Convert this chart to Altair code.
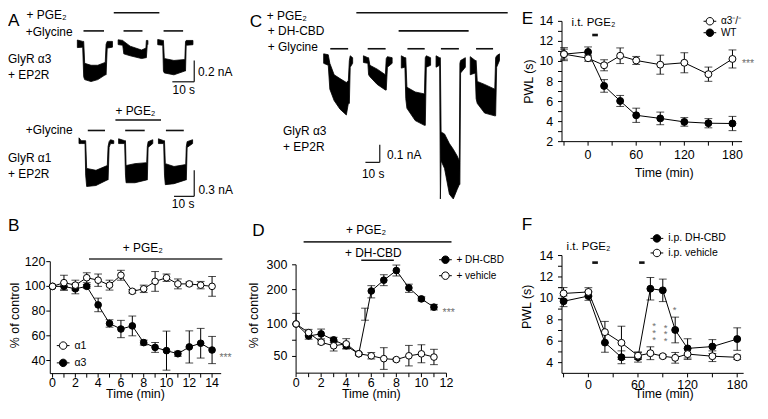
import altair as alt
import pandas as pd

W, H = 750, 400
SX, SY = W / 768, H / 419
FONT = "Liberation Sans"


def X(rx):
    return rx * SX


def Y(ry):
    return ry * SY


# ---------------- data ----------------
# Panel A top (GlyR a3): current bands per sweep (time s, upper nA, lower nA)
a3_sweep = [1] * 10 + [2] * 9 + [3] * 9
a3_t = [0.45, 2.9, 3.35, 3.8, 6.7, 9.8, 13.2, 13.6, 14.1, 16.5,
        19.1, 21.2, 21.7, 24.6, 29.8, 31.8, 32.0, 32.4, 32.7,
        37.2, 39.5, 39.8, 40.2, 44.6, 49.6, 49.9, 50.2, 53.3]
a3_hi = [0.031, 0.018, 0.018, -0.188, -0.206, -0.206, -0.179, -0.009, 0.018, 0.018,
         0.033, 0.027, 0.018, -0.027, -0.063, -0.045, 0.027, 0.027, 0.027,
         0.036, 0.027, 0.027, -0.143, -0.161, -0.152, 0.018, 0.027, 0.027]
a3_lo = [-0.040, -0.036, -0.314, -0.341, -0.359, -0.341, -0.296, -0.296, -0.045, -0.036,
         -0.012, -0.018, -0.099, -0.117, -0.143, -0.135, -0.135, -0.018, -0.009,
         -0.013, -0.018, -0.260, -0.278, -0.296, -0.260, -0.260, -0.018, -0.013]

# Panel A bottom (GlyR a1)
a1_sweep = [1] * 11 + [2] * 9 + [3] * 9
a1_t = [1.3, 2.4, 4.3, 4.6, 5.1, 9.7, 15.3, 15.7, 16.2, 16.9, 18.5,
        20.9, 23.9, 24.3, 24.6, 29.0, 34.8, 35.1, 35.5, 37.8,
        40.6, 43.2, 43.6, 44.0, 48.3, 54.1, 54.4, 54.8, 57.5]
a1_hi = [0.044, 0.011, 0.011, 0.011, -0.308, -0.330, -0.275, -0.055, 0.0, 0.022, 0.011,
         0.033, 0.011, 0.011, -0.275, -0.253, -0.242, -0.055, 0.0, 0.022,
         0.033, 0.011, 0.011, -0.253, -0.286, -0.264, -0.055, 0.0, 0.022]
a1_lo = [-0.022, -0.022, -0.022, -0.385, -0.516, -0.505, -0.440, -0.440, -0.066, -0.022, -0.022,
         -0.022, -0.022, -0.385, -0.473, -0.473, -0.440, -0.440, -0.066, -0.022,
         -0.022, -0.022, -0.385, -0.495, -0.484, -0.440, -0.440, -0.066, -0.022]

# Panel C (GlyR a3, DH-CBD)
c_sweep = [1] * 10 + [2] * 9 + [3] * 9 + [4] * 12 + [5] * 9
c_t = [2.2, 5.4, 6.5, 9.5, 13.6, 18.0, 19.4, 20.1, 20.7, 22.4,
       29.9, 33.0, 33.5, 34.4, 39.5, 45.2, 45.8, 46.6, 49.9,
       56.3, 58.8, 59.4, 60.2, 66.0, 72.4, 73.0, 73.7, 76.7,
       80.5, 83.0, 83.5, 84.0, 86.4, 89.8, 92.5, 95.2, 96.7, 97.1, 97.6, 100.9,
       104.3, 107.8, 108.4, 109.2, 114.3, 121.4, 122.0, 122.7, 124.7]
c_hi = [0.027, 0.022, -0.027, -0.092, -0.114, -0.136, -0.125, -0.011, 0.016, 0.005,
        0.016, 0.005, 0.005, -0.038, -0.060, -0.092, 0.0, 0.011, 0.005,
        0.016, 0.005, 0.005, -0.163, -0.190, -0.201, 0.005, 0.016, 0.005,
        0.016, 0.005, 0.005, -0.418, -0.429, -0.484, -0.516, -0.554, -0.582, -0.027, -0.011, 0.005,
        0.011, -0.011, -0.011, -0.130, -0.147, -0.174, 0.005, 0.016, 0.027]
c_lo = [-0.027, -0.038, -0.174, -0.239, -0.288, -0.321, -0.255, -0.255, -0.049, -0.027,
        -0.022, -0.027, -0.092, -0.103, -0.147, -0.179, -0.179, -0.049, -0.027,
        -0.054, -0.049, -0.228, -0.283, -0.353, -0.380, -0.380, -0.049, -0.038,
        -0.049, -0.038, -0.799, -0.582, -0.625, -0.772, -0.799, -0.745, -0.717, -0.717, -0.082, -0.049,
        -0.092, -0.082, -0.228, -0.255, -0.310, -0.326, -0.326, -0.049, -0.011]

# Panel B (% of control)
b_x = list(range(15))
b_a1 = [100, 103, 101, 107, 105, 101, 109, 96, 98, 104, 107, 102, 102, 101, 100]
b_a1_err = [0, 6, 4, 4, 5, 4, 4, 1.5, 3, 8, 3, 4, 1.5, 3, 8]
b_a3 = [100, 100, 98, 100, 85, 70, 65.5, 68, 54.5, 50.6, 48, 45.5, 51, 54, 48.5]
b_a3_err = [0, 3, 4, 1.5, 5.5, 3, 7, 8, 2, 4, 15.8, 2, 13, 12, 11]
b_xticks = list(range(15))
b_yticks = [40, 60, 80, 100, 120]

# Panel D (% of control)
d_x = list(range(12))
d_cbd = [100, 81.6, 84.7, 75.5, 66.4, 54.1, 196, 238, 277, 207, 173, 149]
d_cbd_err = [0, 5, 7.5, 4, 4, 0, 20, 22, 22, 15, 6, 8]
d_veh = [100, 86.7, 71.9, 66.4, 69.4, 54.1, 51, 46.5, 45, 51, 54, 49]
d_veh_err = [0, 5, 3, 8, 8, 2, 5, 17, 2, 16, 14, 12]
d_extra_x = [0, 5.5]
d_extra_lo = [100, 111]
d_extra_hi = [131, 146]
d_xticks = list(range(13))
d_yticks = [50, 75, 100, 200, 300]

# Panel E (PWL, s)
e_x = [-30, 0, 20, 40, 60, 90, 120, 150, 180]
e_ko = [10.73, 10.32, 9.62, 10.57, 10.1, 9.68, 9.87, 8.73, 10.25]
e_ko_err = [0.65, 0.3, 0.55, 0.78, 0.4, 0.95, 1.0, 0.71, 0.9]
e_wt = [10.73, 10.95, 7.56, 6.06, 4.63, 4.32, 3.97, 3.84, 3.81]
e_wt_err = [0.5, 0.5, 0.63, 0.55, 0.71, 0.63, 0.43, 0.46, 0.71]
e_xticks = [-30, 0, 30, 60, 90, 120, 150, 180]
e_yticks = list(range(2, 15))

# Panel F (PWL, s)
f_x = [-30, 0, 20, 40, 60, 75, 90, 105, 120, 150, 180]
f_cbd = [9.73, 10.22, 5.87, 4.5, 4.5, 10.9, 10.75, 7.05, 5.33, 5.5, 6.2]
f_cbd_err = [0.5, 0.4, 0.9, 0.6, 0.45, 1.05, 1.05, 1.2, 0.9, 0.65, 1.05]
f_veh = [10.46, 10.6, 6.85, 5.85, 4.65, 4.88, 4.6, 4.45, 4.8, 4.6, 4.5]
f_veh_err = [0.55, 0.4, 1.0, 1.55, 0.35, 0.6, 0.15, 0.5, 0.5, 0.5, 0.2]
f_xticks = [-30, 0, 30, 60, 90, 120, 150, 180]
f_yticks = list(range(4, 15))

# application bars (in data units of time)
b_pge_bar = [3.2, 14.9]
d_pge_bar = [0.6, 12.4]
d_cbd_bar = [5.2, 7.8]
e_pge_bar = [5.2, 12.2]
f_pge_bars = [[4.7, 11.5], [61.4, 68.0]]

ONE = alt.Data(values=[{}])
GREY = "#707070"


# ---------------- helpers ----------------
def text(s, rx, ry, size=12.5, align="left", angle=0, color="black", dy=0, line_h=None):
    kw = {}
    if line_h is not None:
        kw["lineHeight"] = line_h * SY
    return alt.Chart(ONE).mark_text(
        text=s, align=align, baseline="middle", fontSize=size * SY, font=FONT,
        angle=angle, color=color, dy=dy, **kw
    ).encode(x=alt.value(X(rx)), y=alt.value(Y(ry)))


def hrule(rx1, rx2, ry, w=1.6, color="#111111"):
    return alt.Chart(ONE).mark_rule(strokeWidth=w, color=color).encode(
        x=alt.value(X(rx1)), x2=alt.value(X(rx2)), y=alt.value(Y(ry)))


def vrule(rx, ry1, ry2, w=1.2, color="#111111"):
    return alt.Chart(ONE).mark_rule(strokeWidth=w, color=color).encode(
        x=alt.value(X(rx)), y=alt.value(Y(ry1)), y2=alt.value(Y(ry2)))


def drule(xs, v0, v1, ry, w, color="#111111"):
    return alt.Chart(ONE).mark_rule(strokeWidth=w, color=color).encode(
        x=alt.X(datum=v0, scale=xs, axis=None), x2=alt.X2(datum=v1), y=alt.value(Y(ry)))


def trace_panel(t, hi, lo, sw, xdom, xr, ydom, yr):
    df = pd.DataFrame({"t": t, "hi": hi, "lo": lo, "sw": sw})
    xs = alt.Scale(domain=xdom, range=[X(xr[0]), X(xr[1])], nice=False, zero=False)
    ys = alt.Scale(domain=ydom, range=[Y(yr[0]), Y(yr[1])], nice=False, zero=False)
    return alt.Chart(df).mark_area(fill="black", stroke="black", strokeWidth=0.8, interpolate="linear").encode(
        x=alt.X("t:Q", scale=xs, axis=None),
        y=alt.Y("hi:Q", scale=ys, axis=None),
        y2="lo:Q",
        detail="sw:N",
    )


SYM = "M-1.7,0L-1,0M1,0L1.7,0M-1,0A1,1,0,1,0,1,0A1,1,0,1,0,-1,0Z"


def legend(rx, ry, spacing, size=10.5):
    return alt.Legend(
        orient="none", legendX=X(rx) - 3.8, legendY=Y(ry) - 5.6, title=None,
        symbolType=SYM, symbolSize=56, symbolStrokeColor="black", symbolStrokeWidth=1,
        labelFont=FONT, labelFontSize=size * SY, labelOffset=6, padding=0,
        rowPadding=spacing - 10.5 * SY, labelColor="black",
    )


def axes_layers(xs, ys, xdom, ydom, xticks, xlab_every, yticks, ylab_hide, bottom, left,
                xlab_dy=10.5, ylab_gap=9.0, fs=13):
    yb, xl = Y(bottom), X(left)
    xt = pd.DataFrame({"v": xticks})
    xt["lab"] = [str(v) if (v % xlab_every == 0) else "" for v in xticks]
    yt = pd.DataFrame({"v": yticks})
    yt["lab"] = ["" if v in ylab_hide else str(v) for v in yticks]
    return [
        alt.Chart(ONE).mark_rule(color="black", strokeWidth=1).encode(
            x=alt.X(datum=xdom[0], scale=xs, axis=None), x2=alt.X2(datum=xdom[1]), y=alt.value(yb)),
        alt.Chart(ONE).mark_rule(color="black", strokeWidth=1).encode(
            y=alt.Y(datum=ydom[0], scale=ys, axis=None), y2=alt.Y2(datum=ydom[1]), x=alt.value(xl)),
        alt.Chart(xt).mark_rule(color="black", strokeWidth=1).encode(
            x=alt.X("v:Q", scale=xs, axis=None), y=alt.value(yb), y2=alt.value(yb + 4)),
        alt.Chart(xt).mark_text(font=FONT, fontSize=fs * SY, baseline="middle", align="center").encode(
            x=alt.X("v:Q", scale=xs, axis=None), y=alt.value(yb + xlab_dy * SY), text="lab:N"),
        alt.Chart(yt).mark_rule(color="black", strokeWidth=1).encode(
            y=alt.Y("v:Q", scale=ys, axis=None), x=alt.value(xl - 4), x2=alt.value(xl)),
        alt.Chart(yt).mark_text(font=FONT, fontSize=fs * SY, baseline="middle", align="right").encode(
            y=alt.Y("v:Q", scale=ys, axis=None), x=alt.value(xl - ylab_gap * SX), text="lab:N"),
    ]


def xy_panel(series, legend_order, xs, ys, leg, axes, extras=(), psize=46, extra_err=None, cap=8):
    rows, err_rows, colors = [], [], {}
    for name, xv, yv, ev, col in series:
        colors[name] = col
        for a, b, e in zip(xv, yv, ev):
            rows.append({"x": a, "y": b, "s": name})
            if e > 0:
                err_rows.append({"x": a, "lo": b - e, "hi": b + e})
    if extra_err:
        for a, l, h in zip(*extra_err):
            err_rows.append({"x": a, "lo": l, "hi": h})
    df = pd.DataFrame(rows)
    edf = pd.DataFrame(err_rows)
    lines = alt.Chart(df).mark_line(color="black", strokeWidth=1).encode(
        x=alt.X("x:Q", scale=xs, axis=None),
        y=alt.Y("y:Q", scale=ys, axis=None),
        detail="s:N",
    )
    bars = alt.Chart(edf).mark_rule(color="black", strokeWidth=1).encode(
        x=alt.X("x:Q", scale=xs, axis=None),
        y=alt.Y("lo:Q", scale=ys, axis=None),
        y2="hi:Q",
    )
    caps = alt.Chart(edf).transform_fold(["lo", "hi"], as_=["k", "v"]).mark_tick(
        orient="horizontal", size=cap * SX, thickness=1, color="black"
    ).encode(
        x=alt.X("x:Q", scale=xs, axis=None),
        y=alt.Y("v:Q", scale=ys, axis=None),
    )
    pts = alt.Chart(df).mark_point(
        shape="circle", filled=True, size=psize, stroke="black", strokeWidth=1, opacity=1
    ).encode(
        x=alt.X("x:Q", scale=xs, axis=None),
        y=alt.Y("y:Q", scale=ys, axis=None),
        fill=alt.Fill("s:N", scale=alt.Scale(domain=legend_order, range=[colors[n] for n in legend_order]),
                      legend=leg),
    )
    return alt.layer(*axes, lines, bars, caps, pts, *extras)


layers = []

# ---------------- Panel A ----------------
layers.append(trace_panel(a3_t, a3_hi, a3_lo, a3_sweep, [0, 60], [70, 70 + 60 * 2.24], [-1, 0.5],
                          [37 + 111.5, 37 - 0.5 * 111.5]))
layers.append(trace_panel(a1_t, a1_hi, a1_lo, a1_sweep, [0, 60], [70, 70 + 60 * 2.07], [-0.6, 0.3],
                          [140 + 0.6 * 91, 140 - 0.3 * 91]))
layers += [
    text("A", 0, 14, size=18),
    text("+ PGE₂", 19, 7),
    text("+Glycine", 18.3, 25),
    text("GlyR α3", 0, 53),
    text("+ EP2R", 0, 70),
    hrule(108.3, 155, 5), hrule(77.3, 98.3, 24), hrule(118.3, 137.7, 24), hrule(159.3, 179.3, 24),
    vrule(190.7, 55, 77.3), hrule(168.3, 190.7, 77.3, w=1.2),
    text("0.2 nA", 194.5, 67.5),
    text("10 s", 180, 85.5, align="center"),
    text("+ PGE₂", 130.5, 107.5, align="center"),
    hrule(110, 156.7, 117.3),
    text("+Glycine", 18.3, 128),
    hrule(81.7, 99.3, 128.3), hrule(120, 140, 128.3), hrule(161.7, 180, 128.3),
    text("GlyR α1", 0, 157),
    text("+ EP2R", 0, 174),
    vrule(190.7, 170, 197.3), hrule(170, 190.7, 197.3, w=1.2),
    text("0.3 nA", 195, 190.7),
    text("10 s", 179.3, 205.5, align="center"),
]

# ---------------- Panel C ----------------
layers.append(trace_panel(c_t, c_hi, c_lo, c_sweep, [0, 130], [320, 320 + 130 * 1.47], [-1, 0.2],
                          [53 + 184, 53 - 0.2 * 184]))
layers += [
    text("C", 247.5, 15, size=18),
    text("+ PGE₂", 265, 8),
    text("+ DH-CBD", 266, 24.5),
    text("+ Glycine", 266, 40.5),
    hrule(356.7, 511.7, 5), hrule(400, 471.7, 24),
    hrule(330, 348.3, 42.7), hrule(368.3, 386.7, 42.7), hrule(409, 426.7, 42.7),
    hrule(443.3, 461.7, 42.7), hrule(479.3, 496.7, 42.7),
    text("GlyR α3", 281.7, 129),
    text("+ EP2R", 281.7, 146),
    vrule(380.7, 143.3, 161.7), hrule(366, 380.7, 161.7, w=1.2),
    text("0.1 nA", 388, 154),
    text("10 s", 374, 173.5, align="center"),
]

# ---------------- Panel B ----------------
bdx, bdy = [-0.2, 14.8], [29.4, 120]
bxs = alt.Scale(domain=bdx, range=[X(43.3), X(218.3)], nice=False, zero=False)
bys = alt.Scale(domain=bdy, range=[Y(383), Y(265.7)], nice=False, zero=False)
layers.append(xy_panel(
    [("α3", b_x, b_a3, b_a3_err, "black"), ("α1", b_x, b_a1, b_a1_err, "white")], ["α1", "α3"],
    bxs, bys, legend(55, 354, 15.3, 11),
    axes_layers(bxs, bys, bdx, bdy, b_xticks, 2, b_yticks, [], 383, 43.3, xlab_dy=10, ylab_gap=5),
    extras=[drule(bxs, b_pge_bar[0], b_pge_bar[1], 263, 1.6, "#333333")],
    psize=44,
))
layers += [
    text("B", 0, 228, size=18),
    text("+ PGE₂", 138, 251, align="center"),
    text("% of control", 7, 322, size=13, align="center", angle=270),
    text("Time (min)", 130.5, 404, size=13, align="center"),
    text("***", 216.5, 363, size=11, color=GREY, dy=3),
]

# ---------------- Panel D ----------------
ddx, ddy = [0, 12], [23.5, 300]
dxs = alt.Scale(domain=ddx, range=[X(295), X(449)], nice=False, zero=False)
dys = alt.Scale(domain=[23.5, 50, 100, 200, 300], range=[Y(382.5), Y(365), Y(331), Y(295), Y(269)],
                nice=False, zero=False)
layers.append(xy_panel(
    [("+ DH-CBD", d_x, d_cbd, d_cbd_err, "black"), ("+ vehicle", d_x, d_veh, d_veh_err, "white")],
    ["+ DH-CBD", "+ vehicle"],
    dxs, dys, legend(446.7, 264.3, 14, 10.5),
    axes_layers(dxs, dys, ddx, ddy, d_xticks, 2, d_yticks, [75], 382.5, 295, xlab_dy=10.5, ylab_gap=9),
    extras=[drule(dxs, d_pge_bar[0], d_pge_bar[1], 245, 1.6, "#333333"),
            drule(dxs, d_cbd_bar[0], d_cbd_bar[1], 264.3, 1.6)],
    psize=44, extra_err=(d_extra_x, d_extra_lo, d_extra_hi),
))
layers += [
    text("D", 250, 234, size=18),
    text("+ PGE₂", 366.7, 233, align="center"),
    text("+ DH-CBD", 374, 256.7, align="center"),
    text("% of control", 252, 322, size=13, align="center", angle=270),
    text("Time (min)", 372, 404, size=13, align="center"),
    text("***", 445, 316.7, size=11, color=GREY, dy=3),
]

# ---------------- Panel E ----------------
edx, edy = [-32.5, 192], [2, 14]
exs = alt.Scale(domain=edx, range=[X(567.3), X(751.7)], nice=False, zero=False)
eys = alt.Scale(domain=edy, range=[Y(140), Y(14)], nice=False, zero=False)
layers.append(xy_panel(
    [("WT", e_x, e_wt, e_wt_err, "black"), ("α3⁻/⁻", e_x, e_ko, e_ko_err, "white")], ["α3⁻/⁻", "WT"],
    exs, eys, legend(717.5, 14.5, 9.5, 10.5),
    axes_layers(exs, eys, edx, edy, e_xticks, 60, e_yticks, [3, 5, 7, 9, 11, 13], 140, 567.3,
                xlab_dy=13.5, ylab_gap=9),
    extras=[drule(exs, e_pge_bar[0], e_pge_bar[1], 28.3, 2.6)],
    psize=48,
))
layers += [
    text("E", 526, 11, size=18),
    text("i.t. PGE₂", 577, 16, size=12),
    text("PWL (s)", 533, 77, size=13, align="center", angle=270),
    text("Time (min)", 672, 173, size=13, align="center"),
    text("***", 751.5, 56, size=11, color=GREY, dy=3),
]

# ---------------- Panel F ----------------
fdx, fdy = [-31.9, 187.8], [3, 14]
fxs = alt.Scale(domain=fdx, range=[X(567.3), X(753.3)], nice=False, zero=False)
fys = alt.Scale(domain=fdy, range=[Y(382.7), Y(259.3)], nice=False, zero=False)
layers.append(xy_panel(
    [("i.p. DH-CBD", f_x, f_cbd, f_cbd_err, "black"), ("i.p. vehicle", f_x, f_veh, f_veh_err, "white")],
    ["i.p. DH-CBD", "i.p. vehicle"],
    fxs, fys, legend(663, 241.7, 12.6, 11),
    axes_layers(fxs, fys, fdx, fdy, f_xticks, 60, f_yticks, [5, 7, 9, 11, 13], 382.7, 567.3,
                xlab_dy=12.5, ylab_gap=9),
    extras=[drule(fxs, b0, b1, 266.7, 2.6) for b0, b1 in f_pge_bars],
    psize=48,
))
layers += [
    text("F", 526, 227, size=18),
    text("i.t. PGE₂", 572, 250, size=12),
    text("PWL (s)", 531.7, 313, size=13, align="center", angle=270),
    text("Time (min)", 672, 404, size=13, align="center"),
    # significance stars (stacked columns)
    text(["*", "*", "*"], 661.7, 330, size=10, align="center", color=GREY, dy=3, line_h=7.3),
    text(["*", "*", "*"], 673.3, 331.7, size=10, align="center", color=GREY, dy=3, line_h=7.0),
    text("*", 682.7, 313.3, size=10, align="center", color=GREY, dy=3),
]

chart = alt.layer(*layers).resolve_scale(
    x="independent", y="independent", fill="independent"
).resolve_legend(fill="independent").properties(
    width=W, height=H, padding=0, autosize=alt.AutoSizeParams(type="none")
).configure_view(stroke=None).configure_axis(disable=True)

chart.save("out.html", embed_options={"renderer": "svg", "actions": False})
